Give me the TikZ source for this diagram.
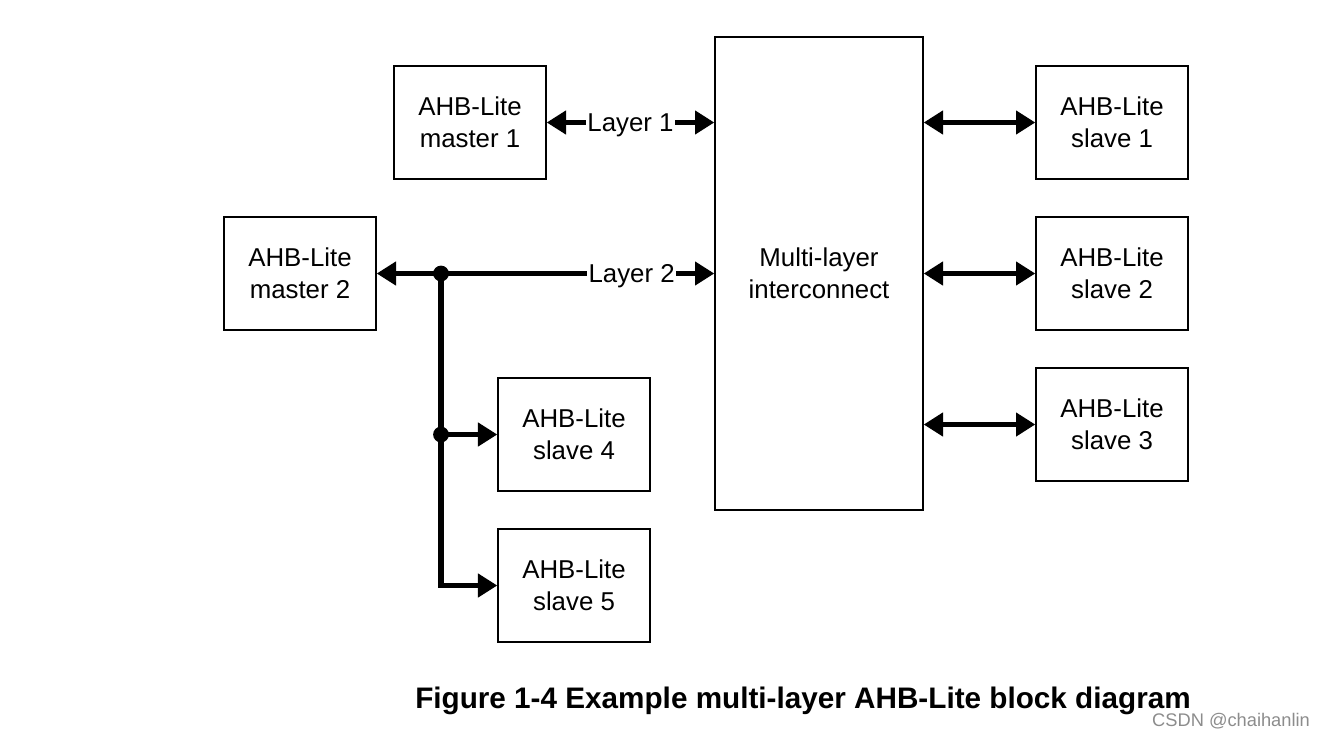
\documentclass[tikz,border=0pt]{standalone}
\usepackage{fontspec}
\setmainfont{Liberation Sans}
\usetikzlibrary{arrows.meta}
\tikzset{
  block/.style={draw, line width=0.8pt, minimum width=3.04cm, minimum height=2.26cm,
    align=center, font=\fontsize{14.7}{18}\selectfont, inner sep=0pt},
  bus/.style={line width=2.9pt, -{Triangle[length=11pt,width=13pt]}},
  bibus/.style={line width=2.9pt, {Triangle[length=11pt,width=13pt]}-{Triangle[length=11pt,width=13pt]}},
  layerlbl/.style={fill=white, inner xsep=0.6pt, inner ysep=1.5pt, font=\fontsize{14.7}{18}\selectfont},
  joint/.style={circle, fill, inner sep=0pt, minimum size=9pt}
}
\begin{document}
\begin{tikzpicture}[x=0.02cm, y=-0.02cm]
  \useasboundingbox (0,0) rectangle (1327,738);
  % masters
  \node [block] (mst1) at (470,122.5) {AHB-Lite\\master 1};
  \node [block] (mst2) at (300,273.5) {AHB-Lite\\master 2};
  % interconnect
  \node [block, minimum width=4.16cm, minimum height=9.46cm] (icon) at (819,273.5)
        {Multi-layer\\interconnect};
  % slaves
  \node [block] (slv1) at (1112,122.5) {AHB-Lite\\slave 1};
  \node [block] (slv2) at (1112,273.5) {AHB-Lite\\slave 2};
  \node [block] (slv3) at (1112,424.5) {AHB-Lite\\slave 3};
  \node [block] (slv4) at (574,434.5) {AHB-Lite\\slave 4};
  \node [block] (slv5) at (574,585.5) {AHB-Lite\\slave 5};

  % layer 1 and layer 2
  \draw [bibus] (mst1.east) -- (icon.west |- mst1.east)
        node [layerlbl, pos=0.5, yshift=-1.5pt] {Layer 1};
  \draw [bibus] (mst2.east) -- (icon.west |- mst2.east)
        node [layerlbl, pos=0.755, yshift=-1.5pt] {Layer 2};
  \coordinate (tap1) at (441,273.5);
  \coordinate (tap2) at (441,434.5);
  \draw [bus] (tap1) |- (slv5.west);
  \draw [bus] (tap2) -- (slv4.west);
  \node [joint] at (tap1) {};
  \node [joint] at (tap2) {};

  % interconnect to slaves
  \draw [bibus] (icon.east |- slv1.west) -- (slv1.west);
  \draw [bibus] (icon.east |- slv2.west) -- (slv2.west);
  \draw [bibus] (icon.east |- slv3.west) -- (slv3.west);

  \node [font=\fontsize{16.9}{20}\selectfont\bfseries] (cap) at (803,701)
        {Figure 1-4 Example multi-layer AHB-Lite block diagram};
  \node [font=\fontsize{10.4}{12}\selectfont, text=black!45] (mark) at (1231,721)
        {CSDN @chaihanlin};
\end{tikzpicture}
\end{document}
